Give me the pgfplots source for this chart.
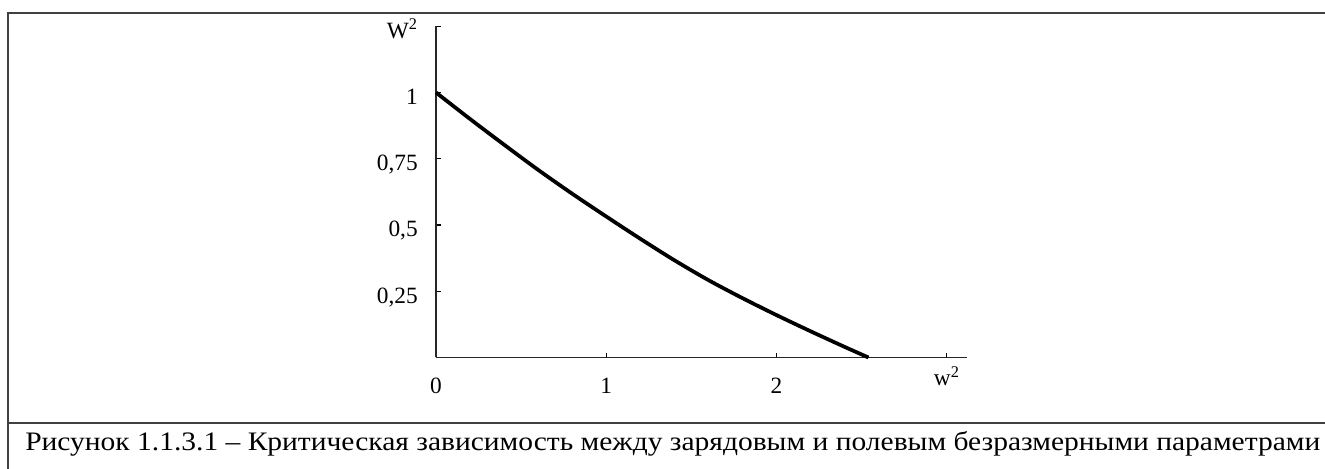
\documentclass[border=0pt]{standalone}
\usepackage{fontspec}
\setmainfont{Liberation Serif}
\usepackage{graphicx}
\usepackage{pgfplots}
\pgfplotsset{compat=1.18}

\begin{document}
\begin{tikzpicture}[x=0.75pt,y=0.75pt]
\useasboundingbox (0,0) rectangle (1325,468);
% frame around the figure and the caption line
\draw[line width=1.6pt, color=black!75] (8,-5) -- (8,455) -- (1335,455);
\draw[line width=1.6pt, color=black!75] (8,45) -- (1335,45);
\begin{axis}[
  anchor=origin, at={(327pt,82.875pt)},
  x=127.7pt, y=198.75pt,
  xmin=0, xmax=3.12, ymin=0, ymax=1.25,
  axis lines*=left,
  axis line style={line width=1.3pt, black!85},
  tick align=inside,
  major tick length=3.5pt,
  tick style={line width=1pt, black},
  xtick={0,1,2,3}, xticklabels={0,1,2,{}},
  ytick={0.25,0.5,0.75,1,1.25},
  yticklabels={{0,25},{0,5},{0,75},1,{W\textsuperscript{2}}},
  /pgf/number format/assume math mode=true,
  tick label style={font=\fontsize{17.5}{20}\selectfont},
  xticklabel style={anchor=base, yshift=-27pt, inner sep=0pt},
  yticklabel style={anchor=base east, xshift=-13.5pt, yshift=-9pt, inner sep=0pt},
  clip=false,
]
% critical curve W^2(w^2)
\addplot[line width=2.8pt, black, smooth] coordinates {
  (0,1) (0.2,0.900) (0.4,0.803) (0.6,0.708) (0.8,0.618)
  (1.0,0.532) (1.2,0.448) (1.4,0.367) (1.6,0.292) (1.8,0.224)
  (2.0,0.160) (2.2,0.099) (2.4,0.040) (2.54,0)
};
\node[anchor=base, inner sep=0pt, font=\fontsize{17.5}{20}\selectfont]
  at (axis cs:3,0) [yshift=-21pt] {w\textsuperscript{2}};
\end{axis}
\node[anchor=base west, inner sep=0pt, font=\fontsize{20}{23}\selectfont] at (25,18)
  {\resizebox{971.25pt}{\height}{Рисунок 1.1.3.1 – Критическая зависимость между зарядовым и полевым безразмерными параметрами}};
\end{tikzpicture}
\end{document}
